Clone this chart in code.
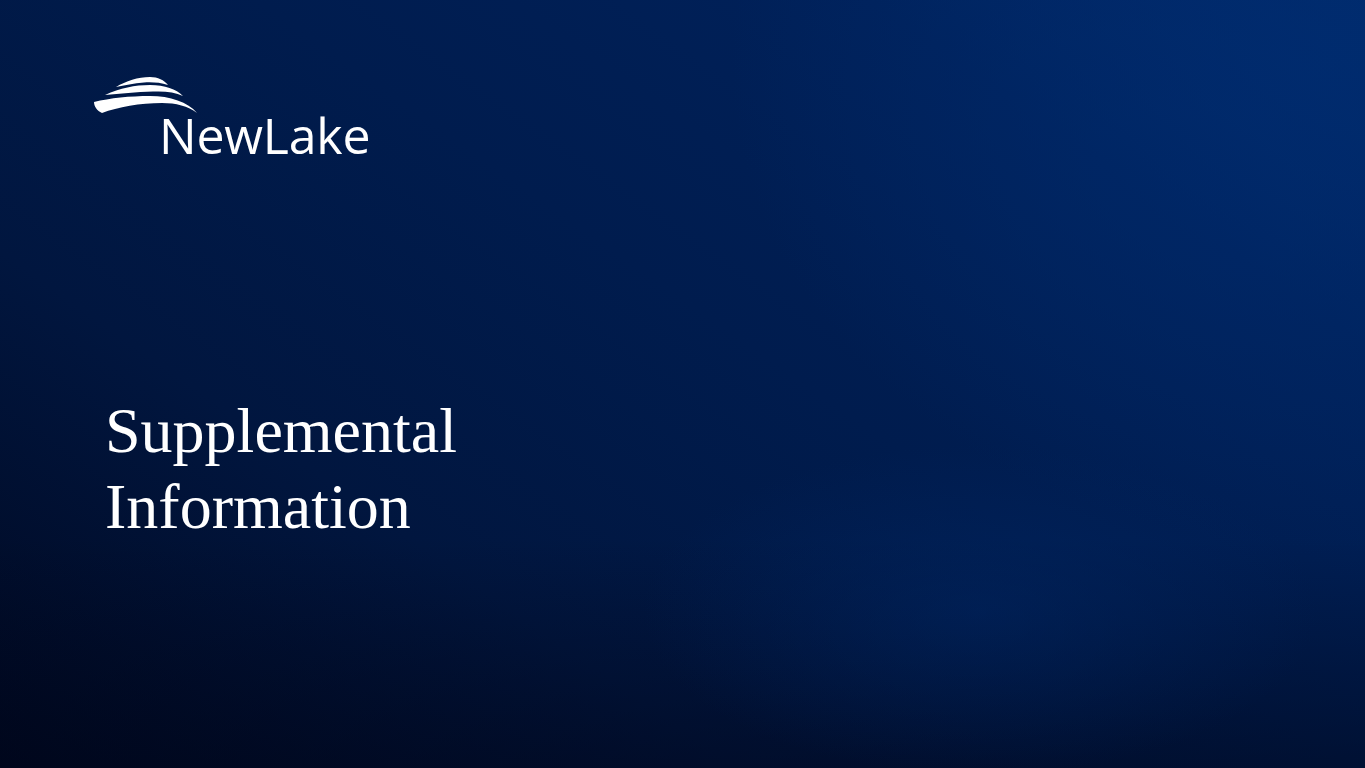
<!DOCTYPE html>
<html>
<head>
<meta charset="utf-8">
<title>Supplemental Information</title>
<script src="https://cdn.jsdelivr.net/npm/chart.js@4"></script>
<style>
  html, body { margin: 0; padding: 0; }
  body {
    width: 1365px; height: 768px; overflow: hidden; position: relative;
    background:
      radial-gradient(ellipse 800px 650px at 1330px 60px, rgba(0, 44, 112, 0.8), rgba(0, 44, 112, 0) 75%),
      radial-gradient(ellipse 450px 220px at 980px 610px, rgba(0, 40, 104, 0.45), rgba(0, 40, 104, 0) 75%),
      linear-gradient(to bottom, rgba(0,0,0,0) 70%, rgba(0, 5, 24, 0.5) 100%),
      linear-gradient(35deg, #000820 0%, #01163f 30%, #001c4e 55%, #00215a 80%, #012a6b 100%);
  }
  #logo { position: absolute; left: 90px; top: 72px; }
  #brand {
    position: absolute; left: 159px; top: 110px;
    font-family: "Open Sans", sans-serif; font-size: 50px; line-height: 50px;
    color: #ffffff; letter-spacing: -0.2px;
  }
  #title {
    position: absolute; left: 105px; top: 393px;
    font-family: "Liberation Serif", "Times New Roman", serif; font-size: 64px; line-height: 76px;
    color: #ffffff;
  }
</style>
</head>
<body>
<svg id="logo" width="112" height="46" viewBox="0 0 112 46">
  <path fill="#ffffff" d="M4,30 C20,26 40,24 60,24 C80,24 98,30 107,41 C98,34 86,31 72,31 C50,31 28,35 12,41 C7,39 4,34 4,30 Z"/>
  <path fill="#ffffff" d="M15,23 C30,16 45,13 60,13 C75,13 86,17 93,24 C85,20 75,19 63,19.5 C46,20 30,22 15,23 Z"/>
  <path fill="#ffffff" d="M26,15 C36,9 48,5 60,5 C68,5 74,8 78,13 C70,10.5 62,10 54,10.5 C44,11.3 34,13.5 26,15 Z"/>
</svg>
<div id="brand">NewLake</div>
<div id="title">Supplemental<br>Information</div>
</body>
</html>
